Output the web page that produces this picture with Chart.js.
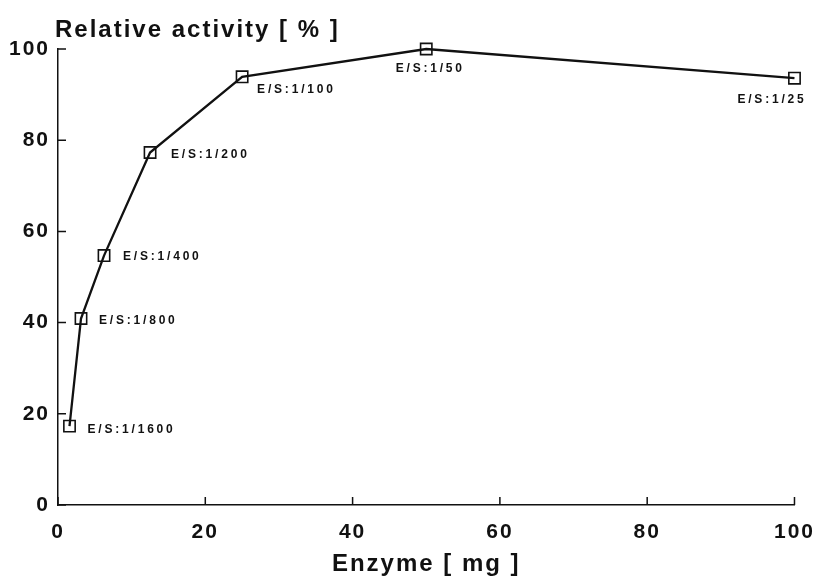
<!DOCTYPE html>
<html>
<head>
<meta charset="utf-8">
<script src="https://cdn.jsdelivr.net/npm/chart.js@4"></script>
<style>
    html, body { margin: 0; padding: 0; background: #fff; }
    #wrap { width: 830px; height: 583px; }
</style>
</head>
<body>
<div id="wrap"><canvas id="chart-activity"></canvas></div>
<script>
// enzyme amount vs relative activity

const enzymeMg = [1.5625, 3.125, 6.25, 12.5, 25, 50, 100];
const activityPct = [17.3, 40.9, 54.7, 77.3, 93.9, 100, 93.6];
const ratioLabels = ['E/S:1/1600', 'E/S:1/800', 'E/S:1/400', 'E/S:1/200',
    'E/S:1/100', 'E/S:1/50', 'E/S:1/25'];
const xTicks = [0, 20, 40, 60, 80, 100];
const yTicks = [0, 20, 40, 60, 80, 100];
const yTitle = 'Relative activity [ % ]';
const xTitle = 'Enzyme [ mg ]';

const ink = '#111';
const face = '"Liberation Sans", Arial, Helvetica, sans-serif';

// where each ratio label sits relative to its point
const labelPlace = [
    {dx: 18, dy: 4, align: 'left'},
    {dx: 18, dy: 2, align: 'left'},
    {dx: 19, dy: 1, align: 'left'},
    {dx: 21, dy: 2, align: 'left'},
    {dx: 15, dy: 13, align: 'left'},
    {dx: 4, dy: 20, align: 'center'},
    {dx: 12, dy: 22, align: 'right'}
];

// spaced-out lettering for the whole figure
const spacing = {
    id: 'spacing',
    beforeLayout(chart) { chart.ctx.letterSpacing = '2px'; },
    beforeDraw(chart) { chart.ctx.letterSpacing = '2px'; }
};

// short tick marks pointing into the plot
const innerTicks = {
    id: 'innerTicks',
    afterDraw(chart) {
        const {ctx, chartArea, scales} = chart;
        ctx.save();
        ctx.strokeStyle = ink;
        ctx.lineWidth = 1.5;
        ctx.beginPath();
        scales.x.ticks.forEach(t => {
            const px = scales.x.getPixelForValue(t.value);
            ctx.moveTo(px, chartArea.bottom);
            ctx.lineTo(px, chartArea.bottom - 8);
        });
        scales.y.ticks.forEach(t => {
            const py = scales.y.getPixelForValue(t.value);
            ctx.moveTo(chartArea.left, py);
            ctx.lineTo(chartArea.left + 8, py);
        });
        ctx.stroke();
        ctx.restore();
    }
};

// y title at the top left and ratio labels next to the points
const annotations = {
    id: 'annotations',
    afterDatasetsDraw(chart) {
        const ctx = chart.ctx;
        ctx.save();
        ctx.fillStyle = ink;
        ctx.letterSpacing = '2px';
        ctx.font = 'bold 24px ' + face;
        ctx.textAlign = 'left';
        ctx.textBaseline = 'alphabetic';
        ctx.fillText(yTitle, chart.chartArea.left - 3, 37);

        const meta = chart.getDatasetMeta(0);
        ctx.font = 'bold 12px ' + face;
        ctx.letterSpacing = '2.8px';
        ctx.textBaseline = 'middle';
        meta.data.forEach((pt, i) => {
            const p = labelPlace[i];
            ctx.textAlign = p.align;
            ctx.fillText(ratioLabels[i], pt.x + p.dx, pt.y + p.dy);
        });
        ctx.restore();
    }
};

const dataActivity = {
    datasets: [{
        data: enzymeMg.map((x, i) => ({x: x, y: activityPct[i]})),
        borderColor: ink,
        borderWidth: 2.3,
        tension: 0,
        fill: false,
        clip: false,
        pointStyle: 'rect',
        pointRadius: 8,
        pointHoverRadius: 8,
        pointBorderWidth: 1.6,
        pointBorderColor: ink,
        pointBackgroundColor: 'rgba(0,0,0,0)'
    }]
};

const configActivity = {
    type: 'line',
    data: dataActivity,
    plugins: [spacing, innerTicks, annotations],
    options: {
        responsive: true,
        maintainAspectRatio: false,
        animation: false,
        events: [],
        layout: {
            padding: {top: 49, right: 22, left: 0, bottom: 0}
        },
        scales: {
            x: {
                type: 'linear',
                min: 0,
                max: 100,
                afterBuildTicks: (scale) => { scale.ticks = xTicks.map(v => ({value: v})); },
                afterFit: (scale) => { scale.height = 78; },
                grid: {display: false, drawTicks: false},
                border: {display: true, color: ink, width: 1.5},
                ticks: {
                    padding: 15,
                    color: ink,
                    maxRotation: 0,
                    font: {family: face, size: 21, weight: 'bold'}
                },
                title: {
                    display: true,
                    text: xTitle,
                    color: ink,
                    padding: {top: 0, bottom: 4},
                    font: {family: face, size: 24, weight: 'bold'}
                }
            },
            y: {
                type: 'linear',
                min: 0,
                max: 100,
                afterBuildTicks: (scale) => { scale.ticks = yTicks.map(v => ({value: v})); },
                afterFit: (scale) => { scale.width = 58; },
                grid: {display: false, drawTicks: false},
                border: {display: true, color: ink, width: 1.5},
                ticks: {
                    padding: 8,
                    color: ink,
                    font: {family: face, size: 21, weight: 'bold'}
                }
            }
        },
        plugins: {
            legend: {display: false},
            tooltip: {enabled: false},
            title: {display: false}
        }
    }
};

const chartActivity = new Chart(
    document.getElementById('chart-activity'),
    configActivity
);
</script>
</body>
</html>
